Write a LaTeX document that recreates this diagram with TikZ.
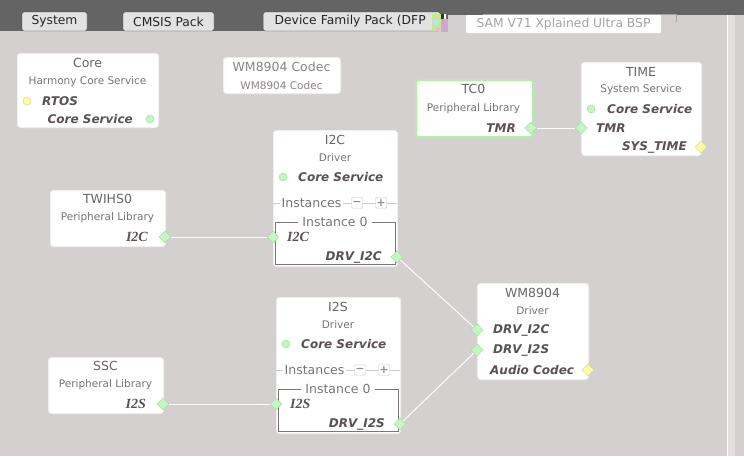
\documentclass[tikz,border=0pt]{standalone}
\usepackage{fontspec}
\setmainfont{DejaVu Sans}
\newfontfamily\portserif{Liberation Serif}
\usetikzlibrary{shapes.geometric}

\definecolor{canvas}{RGB}{212,208,208}
\definecolor{topbar}{RGB}{100,100,100}
\definecolor{tabfill}{RGB}{226,226,226}
\definecolor{stripfill}{RGB}{228,224,224}
\definecolor{boxedge}{RGB}{240,238,238}
\definecolor{titletext}{RGB}{106,100,100}
\definecolor{subtext}{RGB}{122,116,116}
\definecolor{porttext}{RGB}{90,82,82}
\definecolor{codectext}{RGB}{138,132,132}
\definecolor{bsptext}{RGB}{168,162,162}
\definecolor{portgreen}{RGB}{196,246,196}
\definecolor{portgreenedge}{RGB}{150,218,150}
\definecolor{portyellow}{RGB}{250,250,168}
\definecolor{portyellowedge}{RGB}{214,214,128}
\definecolor{tcedge}{RGB}{176,240,166}
\definecolor{framegrey}{RGB}{126,118,118}
\definecolor{rowgrey}{RGB}{206,202,202}

\tikzset{
    block/.style={draw=boxedge, fill=white, rounded corners=3pt, line width=1pt, anchor=north west, inner sep=0pt},
    title/.style={text=titletext, font=\fontsize{12.5}{13}\selectfont, inner sep=0pt},
    sub/.style={text=subtext, font=\fontsize{10.5}{11}\selectfont, inner sep=0pt},
    port/.style={text=porttext, font=\fontsize{12}{13}\selectfont\bfseries\itshape, inner sep=0pt},
    serifport/.style={text=porttext, font=\fontsize{14}{14}\portserif\bfseries\itshape, inner sep=0pt},
    rowtext/.style={text=subtext, font=\fontsize{12.5}{13}\selectfont, inner sep=1.5pt},
    gport/.style={diamond, draw=portgreenedge, fill=portgreen, minimum size=12pt, inner sep=0pt},
    yport/.style={diamond, draw=portyellowedge, fill=portyellow, minimum size=12pt, inner sep=0pt},
    gdot/.style={circle, draw=portgreenedge, fill=portgreen, minimum size=8pt, inner sep=0pt},
    ydot/.style={circle, draw=portyellowedge, fill=portyellow, minimum size=8pt, inner sep=0pt},
    pm/.style={draw=rowgrey, fill=white, rounded corners=1.5pt, minimum size=11pt, inner sep=0pt, text=subtext!80, font=\fontsize{11}{11}\selectfont\bfseries},
    tab/.style={draw=black!75, fill=tabfill, rounded corners=2pt, minimum height=19pt, inner sep=0pt, font=\fontsize{12.3}{13}\selectfont, text=black!85},
    wire/.style={draw=white!92!canvas, line width=1pt}
}

\begin{document}
\begin{tikzpicture}[x=1pt,y=-1pt]
    \useasboundingbox (0,0) rectangle (744,456);
    %draw background
    \fill[canvas] (0,0) rectangle (744,456);
    \fill[topbar] (0,0) rectangle (448,31);
    \fill[topbar] (448,0) rectangle (744,15);
    \fill[stripfill] (727,15) rectangle (735,456);
    \draw[white] (727.5,15) -- (727.5,456);
    %draw tabs
    \node[tab, minimum width=65pt] (systab) at (54.5,21.5) {System};
    \node[tab, minimum width=91pt] (cmsistab) at (168.5,21.5) {CMSIS Pack};
    \node[tab, minimum width=177pt, anchor=west, text width=170pt, align=left] (dfptab) at (263,21.5) {\hspace{8pt}Device Family Pack (DFP};
    \fill[yellow!50!green!45] (432,14) rectangle (441,31);
    \fill[violet!35] (441,19) rectangle (448,32);
    \fill[black!80] (441,14) rectangle (444,19);
    \fill[white] (444,14) rectangle (446,19);
    \fill[cyan!30] (434,20) rectangle (438,26);
    \fill[magenta!30] (436,27) rectangle (440,31);
    \draw[black!35] (483,22) -- (483,14) -- (676,14) -- (676,22);
    \node[fill=white, minimum width=195pt, minimum height=18pt, inner sep=0pt, rounded corners=1pt, text=bsptext, font=\fontsize{12.3}{13}\selectfont] (bsptab) at (563.5,24) {SAM V71 Xplained Ultra BSP};

    %core and codec
    \node[block, minimum width=141pt, minimum height=74pt] (core) at (17,53) {};
    \node[title] (core-title) at (87.5,63) {Core};
    \node[sub] (core-sub) at (87.5,82) {Harmony Core Service};
    \node[ydot] (core-rtos) at (27,101) {};
    \node[port, anchor=west] (core-rtoslabel) at (42,101) {RTOS};
    \node[port, anchor=east] (core-servlabel) at (133,119) {Core Service};
    \node[gdot] (core-serv) at (150,119) {};

    \node[block, minimum width=117pt, minimum height=36pt] (codec) at (223,57) {};
    \node[title, text=codectext] (codec-title) at (281.5,67) {WM8904 Codec};
    \node[sub, text=codectext] (codec-sub) at (281.5,86) {WM8904 Codec};

    %timer
    \node[block, draw=tcedge, line width=2pt, minimum width=117pt, minimum height=57pt] (tc) at (415,79) {};
    \node[title] (tc-title) at (473.5,89) {TC0};
    \node[sub] (tc-sub) at (473.5,109) {Peripheral Library};
    \node[port, anchor=east] (tc-tmrlabel) at (516,128) {TMR};
    \node[gport] (tc-tmr) at (531,128) {};

    \node[block, minimum width=120pt, minimum height=93pt] (time) at (581,62) {};
    \node[title] (time-title) at (641,72) {TIME};
    \node[sub] (time-sub) at (641,90) {System Service};
    \node[gdot] (time-dot) at (591,109) {};
    \node[port, anchor=west] (time-core) at (607,109) {Core Service};
    \node[gport] (time-tmr) at (581,128) {};
    \node[port, anchor=west] (time-tmrlabel) at (596,128) {TMR};
    \node[port, anchor=east] (time-syslabel) at (687,147) {SYS\_TIME};
    \node[yport] (time-sys) at (701,147) {};

    %peripheral libraries
    \foreach \n/\x/\y/\name/\lab in {twihs/50/190/TWIHS0/I2C, ssc/48/357/SSC/I2S}
        {%
            \node[block, minimum width=115pt, minimum height=56pt] (\n) at (\x,\y) {};
            \node[title] (\n-title) at (\x+57.5,\y+9) {\name};
            \node[sub] (\n-sub) at (\x+57.5,\y+28) {Peripheral Library};
            \node[serifport, anchor=east] (\n-label) at (\x+98,\y+47) {\lab};
            \node[gport] (\n-port) at (\x+115,\y+47) {};
        }

    %drivers
    \foreach \n/\x/\y/\lab in {i2c/273/130/I2C, i2s/276/297/I2S}
        {%
            \node[block, minimum width=124pt, minimum height=136pt] (\n) at (\x,\y) {};
            \node[title] (\n-title) at (\x+62,\y+10) {\lab};
            \node[sub] (\n-sub) at (\x+62,\y+28) {Driver};
            \node[gdot] (\n-dot) at (\x+10,\y+47) {};
            \node[port, anchor=west] (\n-core) at (\x+25,\y+47) {Core Service};
            \draw[rowgrey] (\x,\y+73) -- (\x+124,\y+73);
            \node[rowtext, fill=white, anchor=west] (\n-inst) at (\x+7,\y+73) {Instances};
            \node[pm] (\n-minus) at (\x+84,\y+73) {−};
            \node[pm] (\n-plus) at (\x+108,\y+73) {+};
            \draw[framegrey] (\x+2,\y+92) rectangle (\x+122,\y+134);
            \node[rowtext, fill=white, inner xsep=4pt] (\n-inst0) at (\x+62,\y+92) {Instance 0};
            \node[gport] (\n-in) at (\x,\y+107) {};
            \node[serifport, anchor=west] (\n-inlabel) at (\x+14,\y+107) {\lab};
            \node[port, anchor=east] (\n-drvlabel) at (\x+109,\y+127) {DRV\_\lab};
            \node[gport] (\n-drv) at (\x+124,\y+127) {};
        }

    %codec driver
    \node[block, minimum width=111pt, minimum height=96pt] (wm) at (477,283) {};
    \node[title] (wm-title) at (532.5,293) {WM8904};
    \node[sub] (wm-sub) at (532.5,311) {Driver};
    \node[gport] (wm-i2c) at (477,330) {};
    \node[port, anchor=west] (wm-i2clabel) at (493,330) {DRV\_I2C};
    \node[gport] (wm-i2s) at (477,350) {};
    \node[port, anchor=west] (wm-i2slabel) at (493,350) {DRV\_I2S};
    \node[port, anchor=west] (wm-codeclabel) at (490,370) {Audio Codec};
    \node[yport] (wm-codec) at (588,370) {};

    %draw wires
    \foreach \a/\b in {tc-tmr/time-tmr, twihs-port/i2c-in, ssc-port/i2s-in, i2c-drv/wm-i2c, i2s-drv/wm-i2s}
        \draw[wire] (\a) -- (\b);
\end{tikzpicture}
\end{document}
